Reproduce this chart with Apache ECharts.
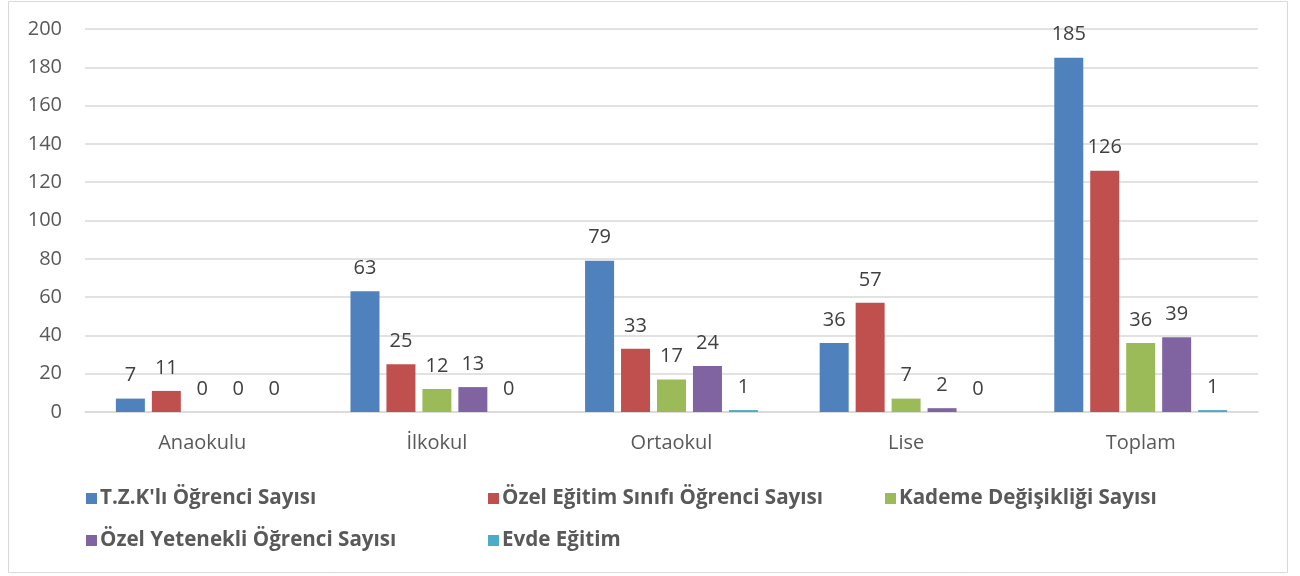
<!DOCTYPE html>
<html><head><meta charset="utf-8">
<script src="https://cdn.jsdelivr.net/npm/echarts@6/dist/echarts.min.js"></script>
<style>html,body{margin:0;padding:0;background:#fff}#c{width:1300px;height:576px}</style>
</head><body><div id="c"></div>
<script>
const categories = ['Anaokulu', 'İlkokul', 'Ortaokul', 'Lise', 'Toplam'];
const seriesNames = ["T.Z.K'lı Öğrenci Sayısı", 'Özel Eğitim Sınıfı Öğrenci Sayısı', 'Kademe Değişikliği Sayısı', 'Özel Yetenekli Öğrenci Sayısı', 'Evde Eğitim'];
const tzk = [7, 63, 79, 36, 185];
const ozelEgitim = [11, 25, 33, 57, 126];
const kademe = [0, 12, 17, 7, 36];
const yetenekli = [0, 13, 24, 2, 39];
const evde = [0, 0, 1, 0, 1];
const colors = ['#4F81BD', '#C0504D', '#9BBB59', '#8064A2', '#4BACC6'];
const values = [tzk, ozelEgitim, kademe, yetenekli, evde];

const FONT = '"Open Sans", sans-serif';
const chart = echarts.init(document.getElementById('c'), null, {renderer: 'canvas'});
const legendBase = {
  orient: 'vertical', top: 483, itemWidth: 11, itemHeight: 11, itemGap: 21,
  icon: 'rect',
  textStyle: {fontFamily: FONT, fontSize: 20.6, fontWeight: 'bold', color: '#595959', padding: [0, 0, 0, -2]}
};
chart.setOption({
  animation: false,
  color: colors,
  textStyle: {fontFamily: FONT},
  graphic: [{type: 'rect', shape: {x: 8.5, y: 1.5, width: 1279, height: 571},
    style: {fill: 'none', stroke: '#D9D9D9', lineWidth: 1}}],
  grid: {left: 85, right: 42, top: 29, bottom: 164, containLabel: false},
  legend: [
    Object.assign({left: 81, data: [seriesNames[0], seriesNames[3]]}, legendBase),
    Object.assign({left: 483, data: [seriesNames[1], seriesNames[4]]}, legendBase),
    Object.assign({left: 880, data: [seriesNames[2]]}, legendBase)
  ],
  xAxis: {
    type: 'category', data: categories,
    axisLine: {show: true, lineStyle: {color: '#D9D9D9', width: 1.5}},
    axisTick: {show: false},
    axisLabel: {fontFamily: FONT, fontSize: 20, color: '#595959', margin: 21}
  },
  yAxis: {
    type: 'value', min: 0, max: 200, interval: 20,
    axisLine: {show: false}, axisTick: {show: false},
    splitLine: {lineStyle: {color: '#D9D9D9', width: 1.5}},
    axisLabel: {fontFamily: FONT, fontSize: 20, color: '#595959', margin: 23}
  },
  series: seriesNames.map((n, i) => ({
    name: n, type: 'bar', data: values[i], barWidth: 29, barGap: '24%',
    itemStyle: {color: colors[i]},
    label: {show: true, position: 'top', distance: 13, fontFamily: FONT, fontSize: 20, color: '#404040'}
  }))
});
</script></body></html>
